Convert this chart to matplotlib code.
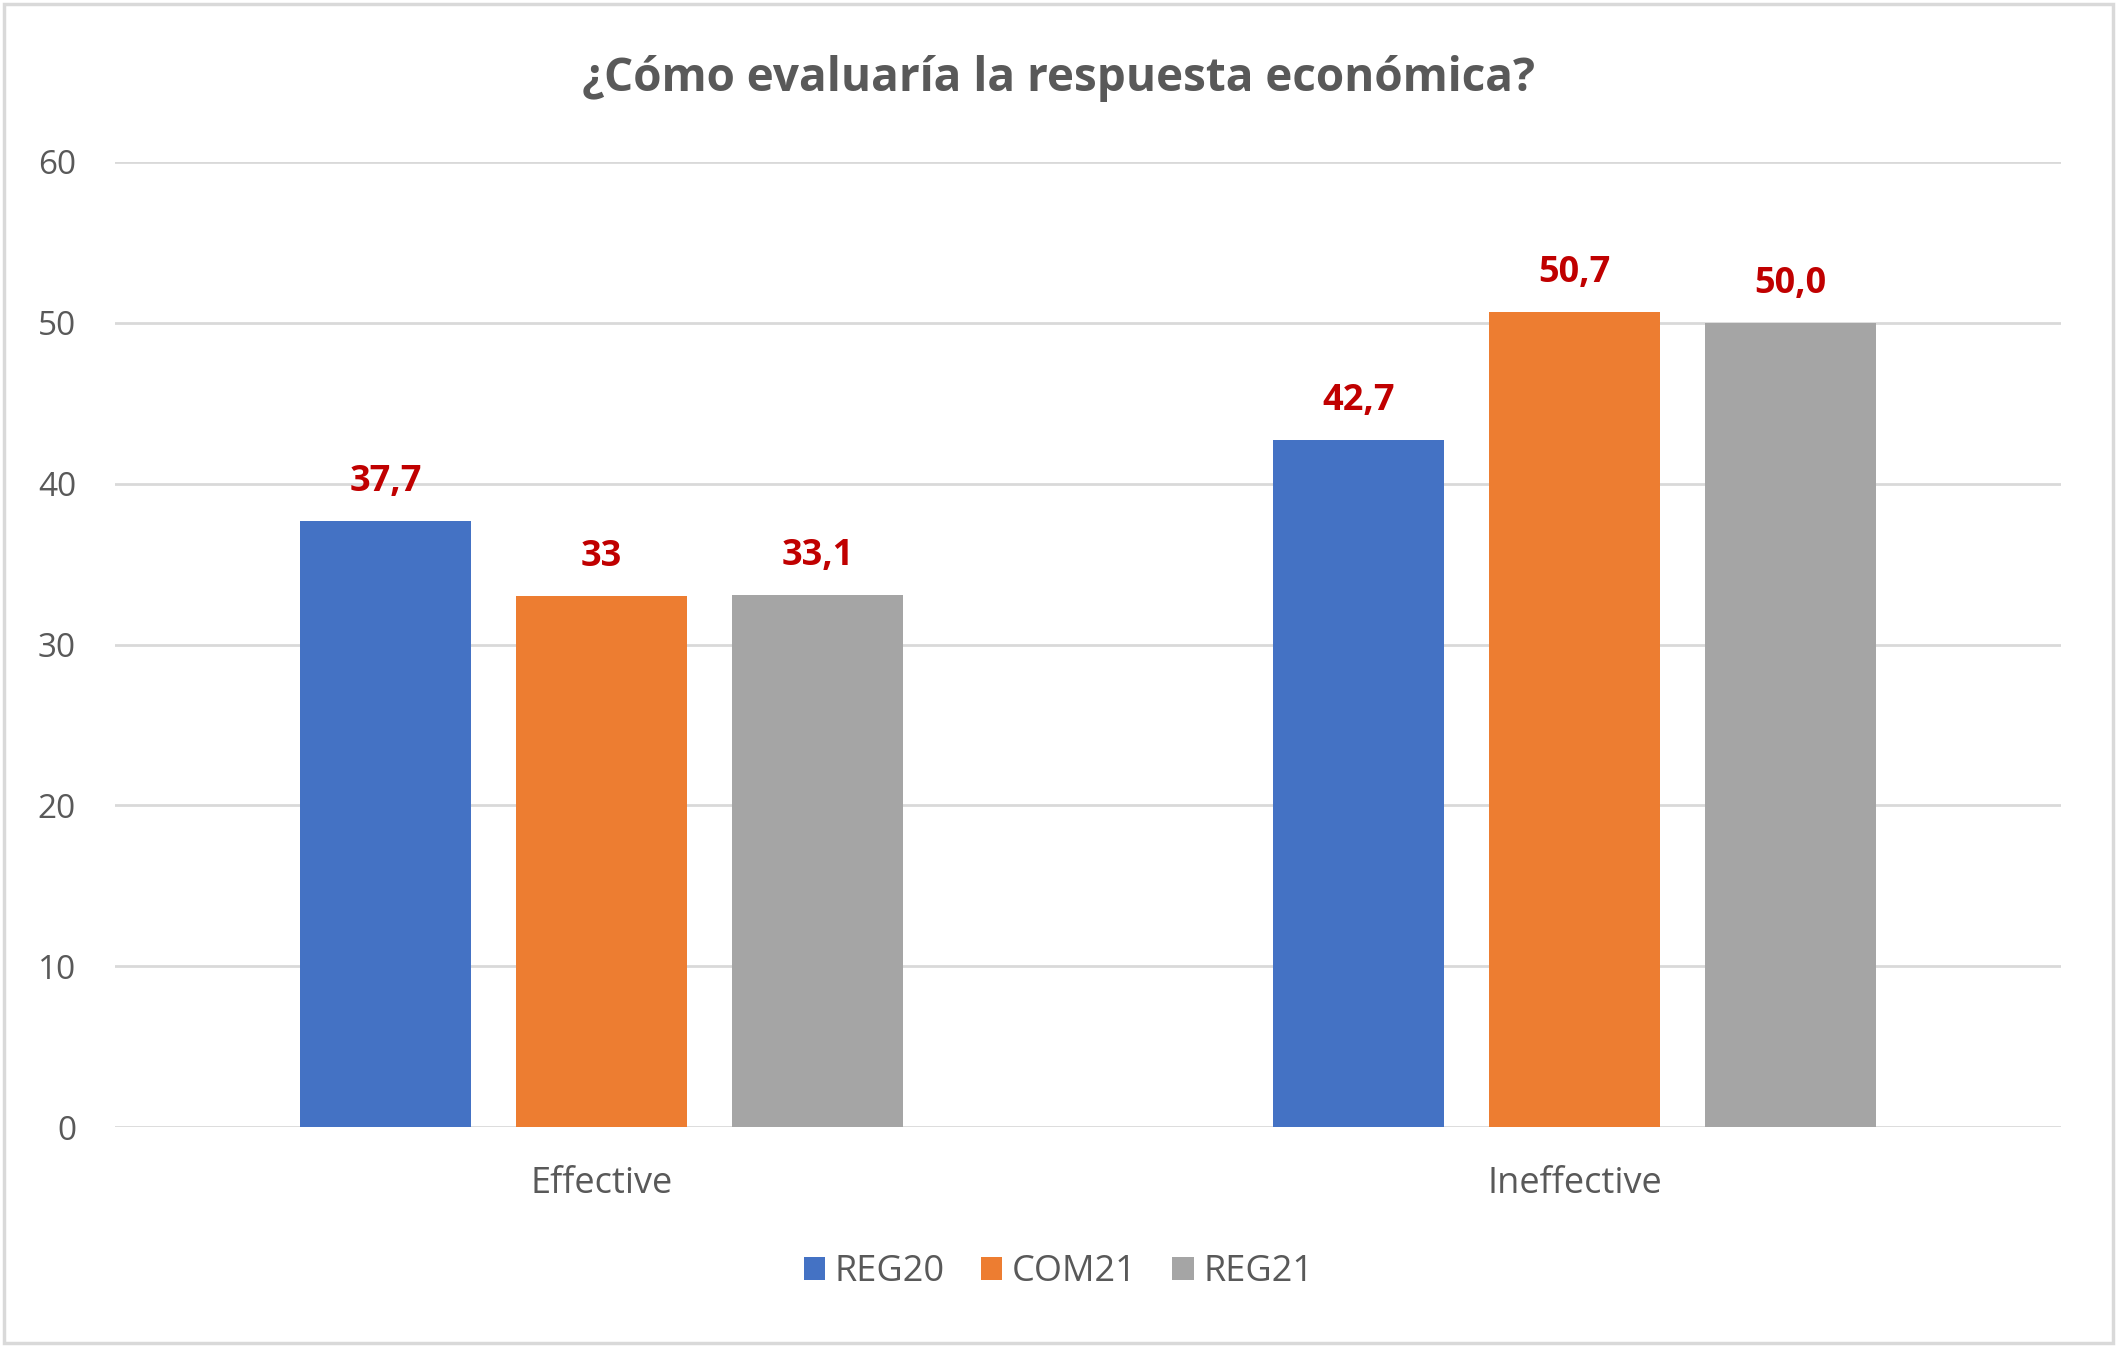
import matplotlib
matplotlib.use("Agg")
import matplotlib.pyplot as plt
import numpy as np
from matplotlib.patches import Rectangle

categories = ["Effective", "Ineffective"]
series = ["REG20", "COM21", "REG21"]
reg20 = [37.7, 42.7]
com21 = [33.0, 50.7]
reg21 = [33.1, 50.0]
labels_reg20 = ["37,7", "42,7"]
labels_com21 = ["33", "50,7"]
labels_reg21 = ["33,1", "50,0"]
yticks = [0, 10, 20, 30, 40, 50, 60]
title = "¿Cómo evaluaría la respuesta económica?"

colors = ["#4472C4", "#ED7D31", "#A5A5A5"]
grey = "#595959"
label_red = "#C00000"
plt.rcParams['font.family'] = ['Open Sans', 'DejaVu Sans']

fig = plt.figure(figsize=(21.17, 13.47), dpi=100)
ax = fig.add_axes([115/2117, 1 - 1127/1347, (2061-115)/2117, (1127-162)/1347])

x = np.arange(len(categories))
w = 0.175
off = 0.222
data = [reg20, com21, reg21]
labs = [labels_reg20, labels_com21, labels_reg21]
for i, (vals, lab) in enumerate(zip(data, labs)):
    bars = ax.bar(x + (i - 1) * off, vals, width=w, color=colors[i], label=series[i], zorder=3)
    for b, t in zip(bars, lab):
        ax.text(b.get_x() + b.get_width() / 2, b.get_height() + 1.3, t, ha="center", va="bottom",
                color=label_red, fontsize=26, fontweight="bold")

ax.set_xlim(-0.5, 1.5)
ax.set_ylim(0, 60)
ax.set_yticks(yticks)
ax.set_xticks(x)
ax.set_xticklabels(categories)
ax.tick_params(axis="y", length=0, pad=28, labelsize=24, labelcolor=grey)
ax.tick_params(axis="x", length=0, pad=28, labelsize=26, labelcolor=grey)
ax.grid(axis="y", color="#D9D9D9", linewidth=2, zorder=0)
for s in ax.spines.values():
    s.set_visible(False)

fig.text(0.5, 1 - 78/1347, title, ha="center", va="center", fontsize=33, fontweight="bold", color=grey)

leg = fig.legend(loc="center", bbox_to_anchor=(0.5, 1 - 1272/1347), ncol=3, frameon=False,
                 fontsize=26, handlelength=0.6, handleheight=0.6, handletextpad=0.25, columnspacing=1.0)
for t in leg.get_texts():
    t.set_color(grey)

fig.patches.append(Rectangle((4/2117, 4/1347), 1 - 8/2117, 1 - 8/1347, transform=fig.transFigure,
                             fill=False, edgecolor="#D9D9D9", linewidth=2.5))

fig.savefig("out.png", dpi=100)
